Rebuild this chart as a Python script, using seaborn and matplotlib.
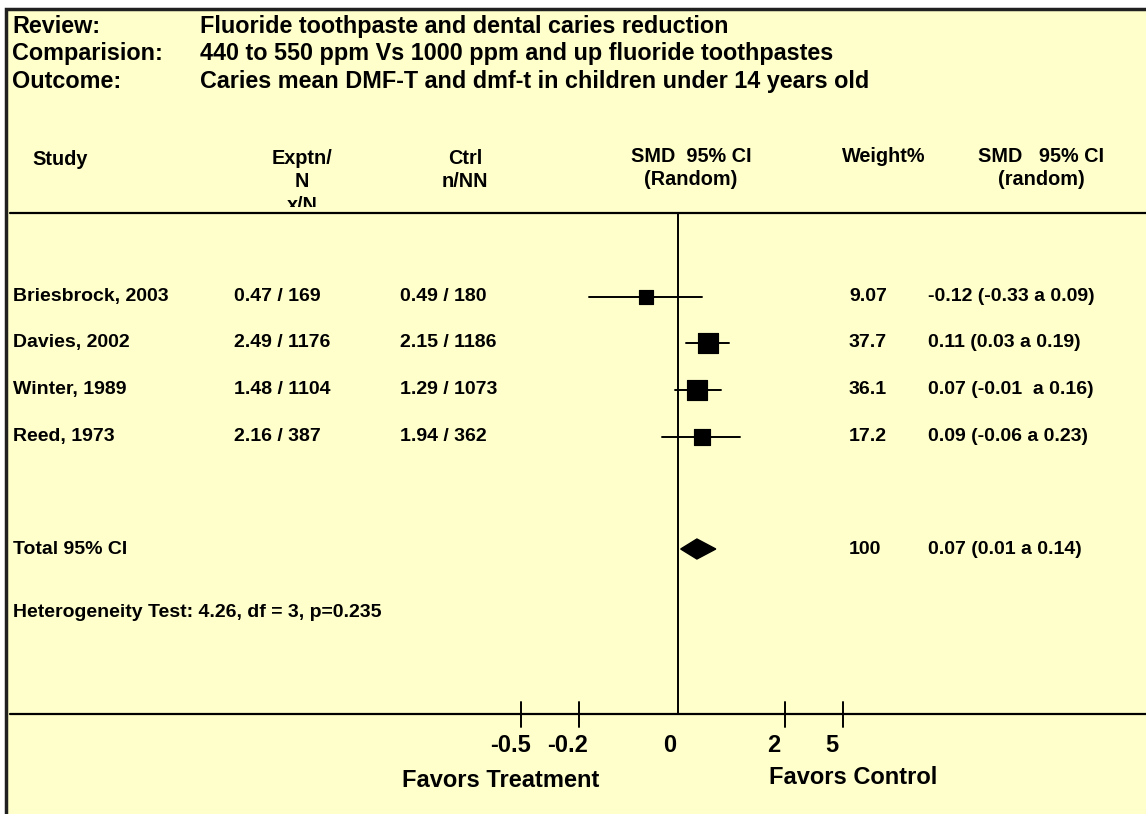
import numpy as np
import pandas as pd
import matplotlib
matplotlib.use("Agg")
import matplotlib.pyplot as plt
import seaborn as sns
from matplotlib.patches import Rectangle
from matplotlib.transforms import Bbox

# ---- data ----
studies = ["Briesbrock, 2003", "Davies, 2002", "Winter, 1989", "Reed, 1973"]
exptn = ["0.47 / 169", "2.49 / 1176", "1.48 / 1104", "2.16 / 387"]
ctrl = ["0.49 / 180", "2.15 / 1186", "1.29 / 1073", "1.94 / 362"]
weight = [9.07, 37.7, 36.1, 17.2]
smd = [-0.12, 0.11, 0.07, 0.09]
ci_low = [-0.33, 0.03, -0.01, -0.06]
ci_high = [0.09, 0.19, 0.16, 0.23]
ci_text = ["-0.12 (-0.33 a 0.09)", "0.11 (0.03 a 0.19)",
           "0.07 (-0.01  a 0.16)", "0.09 (-0.06 a 0.23)"]
total_smd, total_low, total_high = 0.07, 0.01, 0.14
total_weight = "100"
total_text = "0.07 (0.01 a 0.14)"
het_text = "Heterogeneity Test: 4.26, df = 3, p=0.235"
tick_labels = ["-0.5", "-0.2", "2", "5"]

df = pd.DataFrame({"study": studies, "smd": smd, "lo": ci_low,
                   "hi": ci_high, "weight": weight})

# ---- layout ----
W, H = 1146, 814
ZERO_PX, SCALE = 678, 270.0          # pixel of SMD=0, pixels per SMD unit
row_y = [294, 340, 387, 434]
df["y"] = row_y
total_y = 549
tick_px = [521, 579, 785, 843]
BG = "#FFFFCC"

sns.set_theme(style="white")
plt.rcParams["font.family"] = ["Liberation Sans", "DejaVu Sans"]
plt.rcParams["font.weight"] = "bold"
plt.rcParams["text.color"] = "black"

fig = plt.figure(figsize=(W / 100, H / 100), dpi=100)
ax = fig.add_axes([0, 0, 1, 1])
colx = ax.get_yaxis_transform()     # x in axes fraction, y in pixel rows


def px(x):
    return x / W


def d(x):
    return (x - ZERO_PX) / SCALE


def txt(x, y, s, size=14, ha="left", **kw):
    # y is the visual centre of the capitals; place on the baseline
    base = y + size * 1.389 * 0.36
    return ax.text(px(x), base, s, transform=colx, fontsize=size, ha=ha,
                   va="baseline", fontweight="bold", color="black", **kw)


# background panel
ax.add_patch(Rectangle((px(6), 9), 2, 900, transform=colx, facecolor=BG,
                       edgecolor="#202020", lw=2.5, zorder=0))

# title block
for y, lab, t in [(25, "Review:", "Fluoride toothpaste and dental caries reduction"),
                  (52, "Comparision:", "440 to 550 ppm Vs 1000 ppm and up fluoride toothpastes"),
                  (80, "Outcome:", "Caries mean DMF-T and dmf-t in children under 14 years old")]:
    txt(12, y, lab, 16.8)
    txt(200, y, t, 16.8)

# column headers
hs = 14.3
txt(60, 158, "Study", hs, "center")
txt(302, 157, "Exptn/", hs, "center")
txt(302, 180, "N", hs, "center")
xn = txt(302, 204, "x/N", hs, "center")
xn.set_clip_box(Bbox.from_extents(0, H - 207, W, H))
xn.set_clip_on(True)
txt(465, 157, "Ctrl", hs, "center")
txt(465, 180, "n/NN", hs, "center")
txt(691, 155, "SMD  95% CI", hs, "center")
txt(691, 178, "(Random)", hs, "center")
txt(884, 155, "Weight%", hs, "center")
txt(1041, 155, "SMD   95% CI", hs, "center")
txt(1041, 178, "(random)", hs, "center")

# rules
ax.plot([px(10), 1], [213, 213], transform=colx, color="black", lw=1.6, zorder=3)
ax.plot([px(10), 1], [714, 714], transform=colx, color="black", lw=1.6, zorder=3)
ax.plot([0, 0], [213, 714], color="black", lw=1.4, zorder=3)

# study rows
rs = 14
for i, r in df.iterrows():
    txt(13, r.y, r.study, rs)
    txt(234, r.y, exptn[i], rs)
    txt(400, r.y, ctrl[i], rs)
    txt(849, r.y, f"{r.weight:g}", rs)
    txt(928, r.y, ci_text[i], rs)
    ax.plot([r.lo, r.hi], [r.y + 3, r.y + 3], color="black", lw=1.4, zorder=4)

df["ym"] = df["y"] + 3
sns.scatterplot(data=df, x="smd", y="ym", size="weight", sizes=(100, 210),
                marker="s", color="black", edgecolor="black", legend=False,
                ax=ax, zorder=5)

# pooled estimate
ax.fill([total_low, total_smd, total_high, total_smd],
        [total_y, total_y - 10, total_y, total_y + 10], color="black", zorder=5)
txt(13, 547, "Total 95% CI", rs)
txt(849, 547, total_weight, rs)
txt(928, 547, total_text, rs)
txt(13, 610, het_text, rs)

# bottom scale
for tp, tl in zip(tick_px, tick_labels):
    ax.plot([d(tp), d(tp)], [702, 727], color="black", lw=1.4)
    txt(tp - 11, 743, tl, 17, "center")
txt(ZERO_PX - 8, 743, "0", 17, "center")
txt(501, 778, "Favors Treatment", 17, "center")
txt(853, 775, "Favors Control", 17, "center")

ax.set_xlim((0 - ZERO_PX) / SCALE, (W - ZERO_PX) / SCALE)
ax.set_ylim(H, 0)
ax.axis("off")

fig.savefig("out.png", dpi=100, facecolor="white")
